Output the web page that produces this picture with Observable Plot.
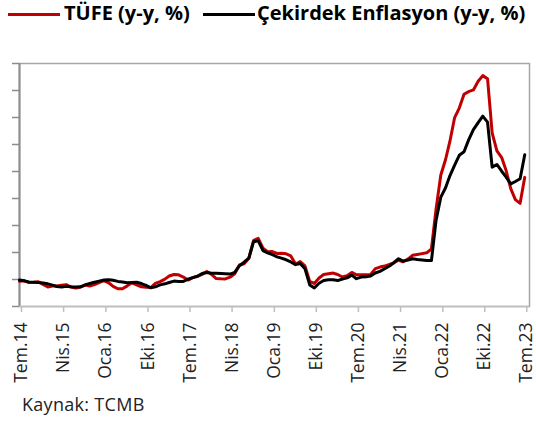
<!DOCTYPE html>
<html>
<head>
<meta charset="utf-8">
<script src="https://cdn.jsdelivr.net/npm/d3@7"></script>
<script src="https://cdn.jsdelivr.net/npm/@observablehq/plot@0.6"></script>
<style>
  html, body { margin: 0; padding: 0; background: #fff; }
  #wrap { position: relative; width: 536px; height: 421px; overflow: hidden; font-family: "Open Sans", Lato, sans-serif; }
  .sw { position: absolute; top: 13px; height: 3px; }
  .lt { position: absolute; top: 0px; font-weight: 700; font-size: 20px; line-height: 26px; color: #000; white-space: nowrap; }
  #chart { position: absolute; top: 30px; left: 0; }
  #cap { position: absolute; top: 392px; left: 22px; font-size: 18px; letter-spacing: 0.3px; line-height: 24px; color: #222; white-space: nowrap; }
</style>
</head>
<body>
<div id="wrap">
  <div class="sw" style="left:8px;width:52px;background:#C00000"></div>
  <div class="lt" id="l1" style="left:64px"></div>
  <div class="sw" style="left:203px;width:52px;background:#000"></div>
  <div class="lt" id="l2" style="left:257px"></div>
  <div id="chart"></div>
  <div id="cap"></div>
</div>
<script>
// ---- data ----
const seriesNames = ["TÜFE (y-y, %)", "Çekirdek Enflasyon (y-y, %)"];
const startMonth = "2014-07-01";
// TÜFE, monthly from Jul 2014 to Jul 2023
const tufe = [
  9.32, 9.54, 8.86, 8.96, 9.15, 8.17,
  7.24, 7.55, 7.61, 7.91, 8.09, 7.20, 6.81, 7.14, 7.95, 7.58, 8.10, 8.81,
  9.58, 8.78, 7.46, 6.57, 6.58, 7.64, 8.79, 8.05, 7.28, 7.16, 7.00, 8.53,
  9.22, 10.13, 11.29, 11.87, 11.72, 10.90, 9.79, 10.68, 11.20, 11.90, 12.98, 11.92,
  10.35, 10.26, 10.23, 10.85, 12.15, 15.39, 15.85, 17.90, 24.52, 25.24, 21.62, 20.30,
  20.35, 19.67, 19.71, 19.50, 18.71, 15.72, 16.65, 15.01, 9.26, 8.55, 10.56, 11.84,
  12.15, 12.37, 11.86, 10.94, 11.39, 12.62, 11.76, 11.77, 11.75, 11.89, 14.03, 14.60,
  14.97, 15.61, 16.19, 17.14, 16.59, 17.53, 18.95, 19.25, 19.58, 19.89, 21.31, 36.08,
  48.69, 54.44, 61.14, 69.97, 73.50, 78.62, 79.60, 80.21, 83.45, 85.51, 84.39, 64.27,
  57.68, 55.18, 50.51, 43.68, 39.59, 38.21, 47.83
];
// Core inflation, monthly from Jul 2014 to Jul 2023
const core = [
  9.8, 9.5, 9.1, 9.0, 8.9, 8.7,
  8.4, 7.9, 7.4, 7.2, 7.5, 7.3, 7.2, 7.3, 8.0, 8.5, 9.0, 9.4,
  9.8, 9.9, 9.7, 9.3, 9.1, 8.8, 8.9, 9.0, 8.5, 7.8, 6.9, 7.3,
  8.0, 8.4, 8.9, 9.4, 9.3, 9.3, 10.1, 10.7, 11.2, 12.2, 12.6, 12.3,
  12.3, 12.2, 12.1, 12.0, 12.6, 15.1, 16.4, 17.9, 24.0, 24.3, 20.7, 19.9,
  19.2, 18.4, 17.9, 17.3, 16.5, 15.5, 15.9, 14.0, 8.0, 6.9, 8.6, 9.6,
  9.9, 9.9, 9.6, 10.2, 10.6, 11.6, 10.3, 10.9, 11.0, 11.3, 12.4, 13.0,
  14.0, 15.0, 16.2, 17.7, 16.8, 17.2, 17.7, 17.4, 17.2, 17.0, 17.0, 31.9,
  40.5, 44.0, 48.4, 52.4, 56.0, 57.3, 61.7, 65.5, 68.1, 70.5, 68.3, 51.6,
  52.6, 50.1, 48.0, 45.4, 46.3, 47.3, 56.2
];
const tickMonths = ["2014-07","2015-04","2016-01","2016-10","2017-07","2018-04","2019-01","2019-10","2020-07","2021-04","2022-01","2022-10","2023-07"];
const tickLabels = ["Tem.14","Nis.15","Oca.16","Eki.16","Tem.17","Nis.18","Oca.19","Eki.19","Tem.20","Nis.21","Oca.22","Eki.22","Tem.23"];
const yTicks = [0, 10, 20, 30, 40, 50, 60, 70, 80, 90];
const caption = "Kaynak: TCMB";

// ---- build ----
const t0 = new Date(startMonth + "T00:00:00Z");
const rows = tufe.map((v, i) => ({date: d3.utcMonth.offset(t0, i), tufe: v, core: core[i]}));
const tickDates = tickMonths.map(s => new Date(s + "-01T00:00:00Z"));
const labelMap = new Map(tickDates.map((d, i) => [+d, tickLabels[i]]));
const xEnd = d3.utcMonth.offset(t0, tufe.length);

document.getElementById("l1").textContent = seriesNames[0];
document.getElementById("l2").textContent = seriesNames[1];
document.getElementById("cap").textContent = caption;

const chart = Plot.plot({
  width: 536,
  height: 362,
  marginTop: 33,
  marginBottom: 86,
  marginLeft: 19,
  marginRight: 7,
  style: {fontFamily: "'Open Sans', Lato, sans-serif", background: "#fff", color: "#222"},
  x: {type: "utc", domain: [t0, xEnd]},
  y: {domain: [0, 90]},
  marks: [
    Plot.frame({stroke: "#a6a6a6", strokeWidth: 1.5}),
    Plot.axisY({ticks: yTicks, tickFormat: () => "", tickSize: 7, stroke: "#8c8c8c", strokeWidth: 1.5}),
    Plot.ruleX([t0], {stroke: "#8c8c8c", strokeWidth: 2}),
    Plot.ruleY([0], {stroke: "#bfbfbf", strokeWidth: 1.5}),
    Plot.axisX({ticks: tickDates, tickFormat: d => labelMap.get(+d), tickRotate: -90, tickSize: 6, tickPadding: 10, dx: 2, stroke: "#bfbfbf", strokeWidth: 1.5, fontSize: 17.5, fill: "#222"}),
    Plot.lineY(rows, {x: "date", y: "tufe", stroke: "#C00000", strokeWidth: 3}),
    Plot.lineY(rows, {x: "date", y: "core", stroke: "#000", strokeWidth: 3})
  ]
});
document.getElementById("chart").appendChild(chart);
</script>
</body>
</html>
